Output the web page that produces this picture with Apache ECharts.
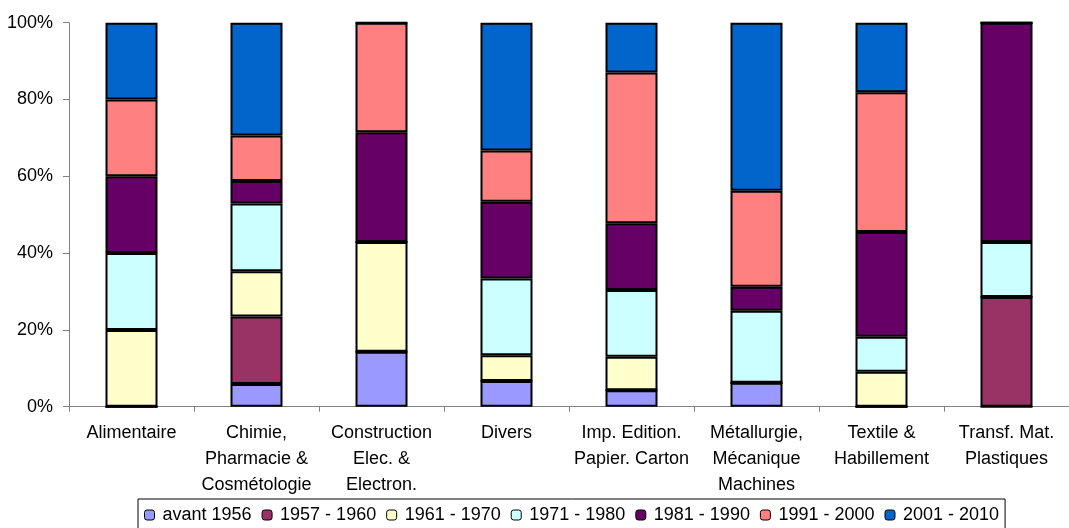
<!DOCTYPE html>
<html>
<head>
<meta charset="utf-8">
<script src="https://cdn.jsdelivr.net/npm/echarts@6/dist/echarts.min.js"></script>
<style>
  html, body { margin: 0; padding: 0; background: #fff; }
  #chart { width: 1069px; height: 528px; }
</style>
</head>
<body>
<div id="chart"></div>
<script>
// secteurs (axe des x)
const categories = [
  'Alimentaire',
  'Chimie,\nPharmacie &\nCosmétologie',
  'Construction\nElec. &\nElectron.',
  'Divers',
  'Imp. Edition.\nPapier. Carton',
  'Métallurgie,\nMécanique\nMachines',
  'Textile &\nHabillement',
  'Transf. Mat.\nPlastiques'
]

// parts en % par période
const avant1956 = [0, 5.9, 14.3, 6.7, 4.3, 6.25, 0, 0]
const p1957_1960 = [0, 17.6, 0, 0, 0, 0, 0, 28.6]
const p1961_1970 = [20, 11.8, 28.6, 6.7, 8.7, 0, 9.1, 0]
const p1971_1980 = [20, 17.6, 0, 20, 17.4, 18.75, 9.1, 14.3]
const p1981_1990 = [20, 5.9, 28.6, 20, 17.4, 6.25, 27.3, 57.1]
const p1991_2000 = [20, 11.8, 28.5, 13.3, 39.2, 25, 36.4, 0]
const p2001_2010 = [20, 29.4, 0, 33.3, 13.0, 43.75, 18.1, 0]

const yTicks = [0, 20, 40, 60, 80, 100]

const periods = [
  { name: 'avant 1956', data: avant1956, color: '#9999FF' },
  { name: '1957 - 1960', data: p1957_1960, color: '#993366' },
  { name: '1961 - 1970', data: p1961_1970, color: '#FFFFCC' },
  { name: '1971 - 1980', data: p1971_1980, color: '#CCFFFF' },
  { name: '1981 - 1990', data: p1981_1990, color: '#660066' },
  { name: '1991 - 2000', data: p1991_2000, color: '#FF8080' },
  { name: '2001 - 2010', data: p2001_2010, color: '#0066CC' }
]

const font = '"Liberation Sans", Arial, sans-serif'

const chart = echarts.init(document.getElementById('chart'))

const option = {
  animation: false,
  textStyle: { fontFamily: font },
  grid: {
    left: 69,
    top: 22.7,
    width: 1013,
    height: 384
  },
  legend: {
    left: 138,
    top: 499,
    padding: [7, 6, 7, 6],
    borderColor: '#000',
    borderWidth: 1,
    itemWidth: 10,
    itemHeight: 10,
    itemGap: 10,
    textStyle: { fontSize: 18, color: '#000', fontFamily: font, padding: [0, 0, 0, 3] },
    itemStyle: { borderColor: '#000', borderWidth: 1 },
    data: periods.map(p => p.name)
  },
  xAxis: {
    type: 'category',
    data: categories,
    axisLine: { lineStyle: { color: '#808080', width: 1 } },
    axisTick: { show: true, length: 5, lineStyle: { color: '#808080' } },
    axisLabel: {
      color: '#000',
      fontSize: 18,
      lineHeight: 26,
      margin: 13,
      interval: 0,
      align: 'center'
    }
  },
  yAxis: {
    type: 'value',
    min: yTicks[0],
    max: yTicks[yTicks.length - 1],
    interval: 20,
    splitLine: { show: false },
    axisLine: { show: true, lineStyle: { color: '#808080', width: 1 } },
    axisTick: { show: true, length: 6, lineStyle: { color: '#808080' } },
    axisLabel: {
      color: '#000',
      fontSize: 18,
      margin: 16,
      formatter: '{value}%'
    }
  },
  series: periods.map(p => ({
    name: p.name,
    type: 'bar',
    stack: 'total',
    barWidth: 52,
    data: p.data,
    itemStyle: { color: p.color, borderColor: '#000', borderWidth: 2 }
  }))
}

chart.setOption(option)
</script>
</body>
</html>
